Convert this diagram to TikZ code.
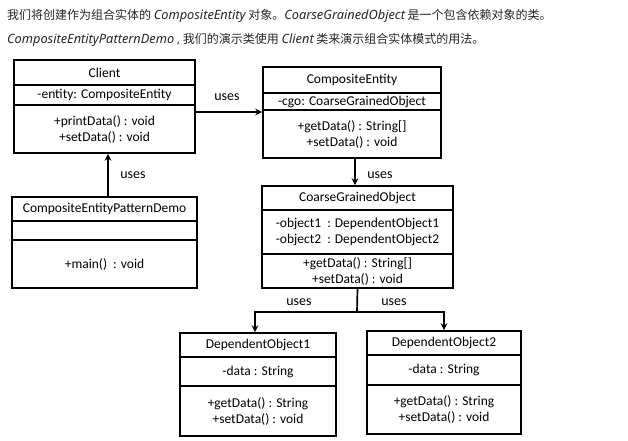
\documentclass[tikz,border=0pt]{standalone}
\usepackage{fontspec}
\setmainfont{Carlito}
\newfontfamily\cjk{Noto Sans CJK SC}
\newfontfamily\latit{Noto Sans}
\usetikzlibrary{arrows.meta}
\newcommand{\lit}[1]{{\latit\itshape\fontsize{12.8}{14}\selectfont #1}}
\begin{document}
\begin{tikzpicture}[x=1pt,y=-1pt,
  comp/.style={draw, line width=1.7pt, inner sep=0pt, align=center,
    font=\fontsize{13.5}{16}\selectfont},
  arr/.style={line width=1.7pt, -{Stealth[length=7pt,width=7pt,inset=2.5pt]}},
  lbl/.style={font=\fontsize{14}{16}\selectfont, inner sep=0pt},
  hdr/.style={anchor=west, inner sep=0pt, text=black!85, font=\fontsize{12}{14}\selectfont}]
\useasboundingbox (0,0) rectangle (628,440);
% header
\node[hdr] (l1) at (7,16) {\cjk 我们将创建作为组合实体的 \lit{CompositeEntity} 对象。\lit{CoarseGrainedObject} 是一个包含依赖对象的类。};
\node[hdr] (l2) at (7,40) {\lit{CompositeEntityPatternDemo} {\latit ,} {\cjk 我们的演示类使用} \lit{Client} {\cjk 类来演示组合实体模式的用法。}};
% Client
\node[comp, minimum width=181pt, minimum height=25pt] (clientT) at (104.5,72.5) {Client};
\node[comp, minimum width=181pt, minimum height=20pt] (clientA) at (104.5,95) {-entity: CompositeEntity};
\node[comp, minimum width=181pt, minimum height=48pt] (clientM) at (104.5,129) {+printData() : void\\+setData() : void};
% CompositeEntity
\node[comp, minimum width=178pt, minimum height=26pt] (ceT) at (352,80) {CompositeEntity};
\node[comp, minimum width=178pt, minimum height=17pt] (ceA) at (352,101.5) {-cgo: CoarseGrainedObject};
\node[comp, minimum width=178pt, minimum height=48pt] (ceM) at (352,134) {+getData() : String[]\\+setData() : void};
% Demo
\node[comp, minimum width=185pt, minimum height=24pt] (demoT) at (104.5,209) {CompositeEntityPatternDemo};
\node[comp, minimum width=185pt, minimum height=19pt] (demoA) at (104.5,230.5) {};
\node[comp, minimum width=185pt, minimum height=48pt] (demoM) at (104.5,264) {+main()\ \ : void};
% CoarseGrainedObject
\node[comp, minimum width=191pt, minimum height=24pt] (cgoT) at (357.5,198) {CoarseGrainedObject};
\node[comp, minimum width=191pt, minimum height=44pt] (cgoA) at (357.5,232) {-object1\ \ : DependentObject1\\-object2\ \ : DependentObject2};
\node[comp, minimum width=191pt, minimum height=34pt] (cgoM) at (357.5,271) {+getData() : String[]\\+setData() : void};
% DependentObject1
\node[comp, minimum width=156pt, minimum height=24pt] (d1T) at (258,345) {DependentObject1};
\node[comp, minimum width=156pt, minimum height=29pt] (d1A) at (258,371.5) {-data : String};
\node[comp, minimum width=156pt, minimum height=50pt] (d1M) at (258,411) {+getData() : String\\+setData() : void};
% DependentObject2
\node[comp, minimum width=154pt, minimum height=24pt] (d2T) at (444,343) {DependentObject2};
\node[comp, minimum width=154pt, minimum height=30pt] (d2A) at (444,370) {-data : String};
\node[comp, minimum width=154pt, minimum height=49pt] (d2M) at (444,409.5) {+getData() : String\\+setData() : void};
% connectors
\draw[arr] (clientM.east |- 0,112) -- (ceM.west |- 0,112);
\node[lbl] (u1) at (227,97) {uses};
\draw[arr] ([xshift=3.5pt]demoT.north) -- ([xshift=3.5pt]clientM.south);
\node[lbl] (u2) at (133,175) {uses};
\draw[arr] ([xshift=3pt]ceM.south) -- ([xshift=-2.5pt]cgoT.north);
\node[lbl] (u3) at (380,175) {uses};
\coordinate (split) at (357,312);
\draw[line width=1.7pt] (cgoM.south) -- (split);
\draw[arr] (split) -| ([xshift=-3pt]d1T.north);
\draw[arr] (split) -| (d2T.north);
\node[lbl] (u4) at (299,302) {uses};
\node[lbl] (u5) at (394,302) {uses};
\end{tikzpicture}
\end{document}
